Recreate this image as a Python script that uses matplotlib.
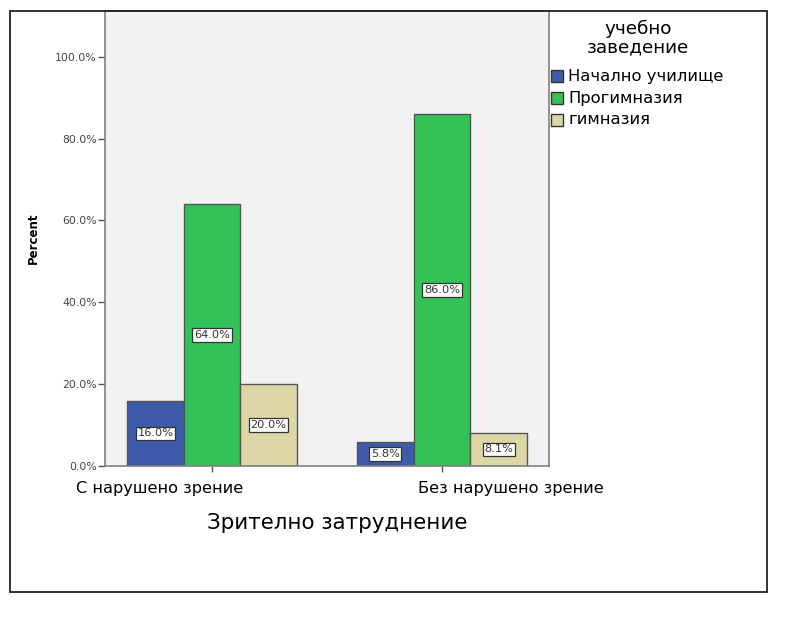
import matplotlib
matplotlib.use('Agg')
import matplotlib.pyplot as plt
import numpy as np
from matplotlib.patches import Rectangle

plt.rcParams['font.family'] = ['DejaVu Sans']

categories = ['С нарушено зрение', 'Без нарушено зрение']
schools = ['Начално училище', 'Прогимназия', 'гимназия']
percent = {
    'Начално училище': [16.0, 5.8],
    'Прогимназия': [64.0, 86.0],
    'гимназия': [20.0, 8.1],
}
yticks = [0, 20, 40, 60, 80, 100]
colors = ['#3e5aab', '#33c257', '#ddd6a6']

W, H = 797, 618
fig = plt.figure(figsize=(W / 100, H / 100), dpi=100)

def fx(px):
    return px / W

def fy(py):
    return 1 - py / H

# outer frame around the whole chart
fig.patches.append(Rectangle((fx(10), fy(592)), fx(767) - fx(10), fy(11) - fy(592),
                             transform=fig.transFigure, fill=False,
                             edgecolor='#222222', linewidth=1.3))

ax = fig.add_axes([fx(105), fy(466), fx(549) - fx(105), fy(11) - fy(466)])
ax.set_facecolor('#f2f2f2')

x = np.arange(len(categories))
width = 0.2465
offsets = [-width, 0, width]
for name, off, c in zip(schools, offsets, colors):
    vals = percent[name]
    ax.bar(x + off, vals, width, color=c, edgecolor='#555555', linewidth=1.0, label=name)
    for xi, v in zip(x + off, vals):
        ax.text(xi, v / 2, '%.1f%%' % v, ha='center', va='center', fontsize=8.2,
                color='#333333',
                bbox=dict(boxstyle='square,pad=0.15', facecolor='white',
                          edgecolor='#333333', linewidth=0.9))

ax.set_xlim(-0.465, 1.465)
ax.set_ylim(0, 111.2)
ax.set_yticks(yticks)
ax.set_yticklabels(['%.1f%%' % t for t in yticks], fontsize=7.8, color='#444444')
ax.tick_params(axis='y', length=5, width=1, color='#555555', pad=1)
ax.set_xticks(x)
ax.set_xticklabels([])
ax.tick_params(axis='x', length=4, width=1, color='#555555')
for s in ['left', 'bottom', 'right', 'top']:
    ax.spines[s].set_color('#808080')
    ax.spines[s].set_linewidth(1.2)

fig.text(fx(33), fy(238), 'Percent', rotation=90, ha='center', va='center',
         fontsize=8.5, fontweight='bold')

# category labels under the groups
fig.text(fx(160), fy(489), categories[0], ha='center', va='center', fontsize=11.6)
fig.text(fx(511), fy(489), categories[1], ha='center', va='center', fontsize=11.6)

fig.text(fx(337), fy(523), 'Зрително затруднение', ha='center', va='center', fontsize=15.4)

# legend
fig.text(fx(638), fy(38), 'учебно\nзаведение', ha='center', va='center',
         fontsize=13.2, linespacing=1.05)
for i, (name, c) in enumerate(zip(schools, colors)):
    top = 70 + 22 * i
    fig.patches.append(Rectangle((fx(551), fy(top + 12)), fx(12), fy(0) - fy(12),
                                 transform=fig.transFigure, facecolor=c,
                                 edgecolor='#333333', linewidth=1.0))
    fig.text(fx(568), fy(top + 6), name, ha='left', va='center', fontsize=11.8)

fig.savefig('out.png', dpi=100, facecolor='white')
